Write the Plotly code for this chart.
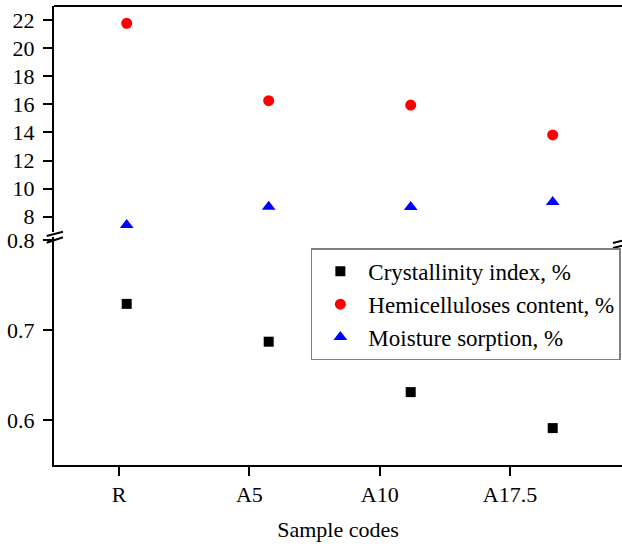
import plotly.graph_objects as go

# ---- data ----
categories = ["R", "A5", "A10", "A17.5"]
crystallinity = [0.729, 0.687, 0.631, 0.591]      # Crystallinity index, %
hemicelluloses = [21.77, 16.26, 15.95, 13.82]     # Hemicelluloses content, %
moisture = [7.41, 8.71, 8.69, 9.05]               # Moisture sorption, %
top_ticks = [8, 10, 12, 14, 16, 18, 20, 22]
bottom_ticks = [0.6, 0.7, 0.8]

idx = list(range(len(categories)))
FONT = "'Liberation Serif', 'Times New Roman', Times, serif"

fig = go.Figure()
fig.add_trace(go.Scatter(x=idx, y=crystallinity, mode="markers", name="Crystallinity index, %",
                         marker=dict(symbol="square", size=10, color="black"),
                         xaxis="x", yaxis="y"))
fig.add_trace(go.Scatter(x=idx, y=hemicelluloses, mode="markers", name="Hemicelluloses content, %",
                         marker=dict(symbol="circle", size=11, color="#ff0000"),
                         xaxis="x", yaxis="y2"))
fig.add_trace(go.Scatter(x=idx, y=moisture, mode="markers", name="Moisture sorption, %",
                         marker=dict(symbol="triangle-up", size=12, color="#0000ff"),
                         xaxis="x", yaxis="y2"))
# carrier trace for the category tick axis
fig.add_trace(go.Scatter(x=categories, y=[None] * len(categories), mode="markers",
                         showlegend=False, hoverinfo="skip", xaxis="x2", yaxis="y"))

axis_common = dict(showline=True, linewidth=2, linecolor="black", ticks="outside",
                   ticklen=9, tickwidth=2, tickcolor="black", showgrid=False, zeroline=False,
                   automargin=False,
                   tickfont=dict(family=FONT, size=22, color="black"))

fig.update_layout(
    width=622, height=544,
    margin=dict(l=54, r=0, t=6, b=79, autoexpand=False),
    paper_bgcolor="white", plot_bgcolor="white",
    font=dict(family=FONT, size=22, color="black"),
    xaxis=dict(domain=[0, 1], range=[-0.512, 3.488], anchor="y", visible=False, automargin=False),
    xaxis2=dict(overlaying="x", anchor="y", side="bottom", type="category",
                range=[-0.5, 3.86], title=dict(text="Sample codes", standoff=15,
                                                 font=dict(family=FONT, size=22)),
                **axis_common),
    yaxis=dict(domain=[0, 0.4967], range=[0.55, 0.8033], anchor="x",
               tickmode="array", tickvals=bottom_ticks, ticktext=["0.6", "0.7", "0.8"],
               ticklabelstandoff=4, **axis_common),
    yaxis2=dict(domain=[0.5076, 1], range=[6.91, 23.0], anchor="x",
                tickmode="array", tickvals=top_ticks, ticklabelstandoff=4, **axis_common),
    legend=dict(x=0.998, xanchor="right", y=0.472, yanchor="top",
                bgcolor="white", bordercolor="#808080", borderwidth=1.5,
                itemwidth=46,
                font=dict(family=FONT, size=23, color="black")),
    showlegend=True,
)

# frame top line and axis-break marks
shapes = [
    dict(type="line", xref="paper", yref="paper", x0=0, x1=1.01, y0=1, y1=1,
          line=dict(color="black", width=2)),
    dict(type="line", xref="paper", yref="paper", x0=-0.0129, x1=0.0158, y0=0.4989, y1=0.5083,
          line=dict(color="black", width=2)),
    dict(type="line", xref="paper", yref="paper", x0=-0.0129, x1=0.0158, y0=0.4843, y1=0.4961,
          line=dict(color="black", width=2)),
    dict(type="line", xref="paper", yref="paper", x0=0.984, x1=1.02, y0=0.4836, y1=0.4946,
          line=dict(color="black", width=2)),
    dict(type="line", xref="paper", yref="paper", x0=0.984, x1=1.02, y0=0.4727, y1=0.4836,
          line=dict(color="black", width=2)),
]
fig.update_layout(shapes=shapes)

fig.write_html("out.html", config={"displayModeBar": False},
               post_script="document.body.style.margin='0';document.body.style.overflow='hidden';")
